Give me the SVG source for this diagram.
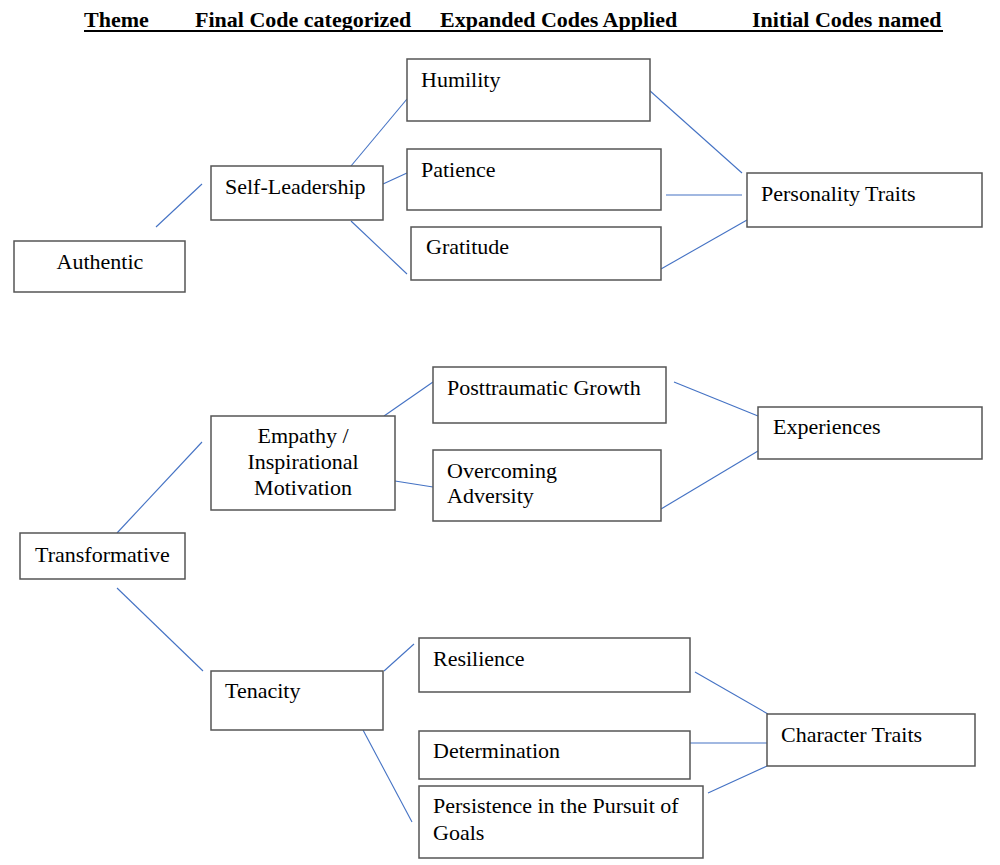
<svg xmlns="http://www.w3.org/2000/svg" width="1000" height="865" viewBox="0 0 1000 865">
<style>
.bg{fill:#ffffff}
.box{fill:#ffffff;stroke:#555555;stroke-width:1.5}
.t{font-family:"Liberation Serif","Times New Roman",serif;font-size:22px;fill:#000000}
.h{font-family:"Liberation Serif","Times New Roman",serif;font-size:22px;font-weight:bold;fill:#000000}
.c line{stroke:#4472C4;stroke-width:1.1}
</style>
<rect class="bg" x="0" y="0" width="1000" height="865"/>
<g id="header">
<text class="h" x="84" y="27">Theme</text>
<text class="h" x="195" y="27">Final Code categorized</text>
<text class="h" x="440" y="27">Expanded Codes Applied</text>
<text class="h" x="752" y="27">Initial Codes named</text>
<line x1="84" y1="31" x2="943" y2="31" stroke="#000000" stroke-width="2"/>
</g>
<g class="c" id="connectors">
<line x1="156" y1="227" x2="202" y2="184"/>
<line x1="351" y1="166" x2="407" y2="99"/>
<line x1="383" y1="184" x2="407" y2="173"/>
<line x1="351" y1="221" x2="407" y2="274"/>
<line x1="649" y1="90" x2="742" y2="173"/>
<line x1="666" y1="195" x2="742" y2="195"/>
<line x1="661" y1="269" x2="747" y2="220"/>
<line x1="117" y1="533" x2="202" y2="442"/>
<line x1="384" y1="416" x2="433" y2="382"/>
<line x1="395" y1="481" x2="433" y2="487"/>
<line x1="674" y1="382" x2="758" y2="416"/>
<line x1="661" y1="509" x2="758" y2="451"/>
<line x1="117" y1="588" x2="203" y2="671"/>
<line x1="384" y1="671" x2="414" y2="644"/>
<line x1="363" y1="730" x2="412" y2="822"/>
<line x1="695" y1="672" x2="768" y2="714"/>
<line x1="690" y1="743" x2="767" y2="743"/>
<line x1="708" y1="793" x2="767" y2="766"/>
</g>
<g id="authentic"><rect class="box" x="14" y="241" width="171" height="51"/><text class="t" x="100" y="269" text-anchor="middle">Authentic</text></g>
<g id="self-leadership"><rect class="box" x="211" y="166" width="172" height="54"/><text class="t" x="225" y="194">Self-Leadership</text></g>
<g id="humility"><rect class="box" x="407" y="59" width="243" height="62"/><text class="t" x="421" y="87">Humility</text></g>
<g id="patience"><rect class="box" x="407" y="149" width="254" height="61"/><text class="t" x="421" y="177">Patience</text></g>
<g id="gratitude"><rect class="box" x="411" y="227" width="250" height="53"/><text class="t" x="426" y="254">Gratitude</text></g>
<g id="personality-traits"><rect class="box" x="747" y="173" width="235" height="54"/><text class="t" x="761" y="201">Personality Traits</text></g>
<g id="transformative"><rect class="box" x="20" y="533" width="165" height="46"/><text class="t" x="35" y="562">Transformative</text></g>
<g id="empathy"><rect class="box" x="211" y="416" width="184" height="94"/><text class="t" x="303" y="443" text-anchor="middle">Empathy /</text><text class="t" x="303" y="469" text-anchor="middle">Inspirational</text><text class="t" x="303" y="495" text-anchor="middle">Motivation</text></g>
<g id="posttraumatic-growth"><rect class="box" x="433" y="367" width="233" height="56"/><text class="t" x="447" y="395">Posttraumatic Growth</text></g>
<g id="overcoming-adversity"><rect class="box" x="433" y="450" width="228" height="71"/><text class="t" x="447" y="478">Overcoming</text><text class="t" x="447" y="503">Adversity</text></g>
<g id="experiences"><rect class="box" x="758" y="407" width="224" height="52"/><text class="t" x="773" y="434">Experiences</text></g>
<g id="tenacity"><rect class="box" x="211" y="671" width="172" height="59"/><text class="t" x="225" y="698">Tenacity</text></g>
<g id="resilience"><rect class="box" x="419" y="638" width="271" height="54"/><text class="t" x="433" y="666">Resilience</text></g>
<g id="determination"><rect class="box" x="419" y="731" width="271" height="48"/><text class="t" x="433" y="758">Determination</text></g>
<g id="persistence"><rect class="box" x="419" y="786" width="284" height="72"/><text class="t" x="433" y="813">Persistence in the Pursuit of</text><text class="t" x="433" y="840">Goals</text></g>
<g id="character-traits"><rect class="box" x="767" y="714" width="208" height="52"/><text class="t" x="781" y="742">Character Traits</text></g>
</svg>
